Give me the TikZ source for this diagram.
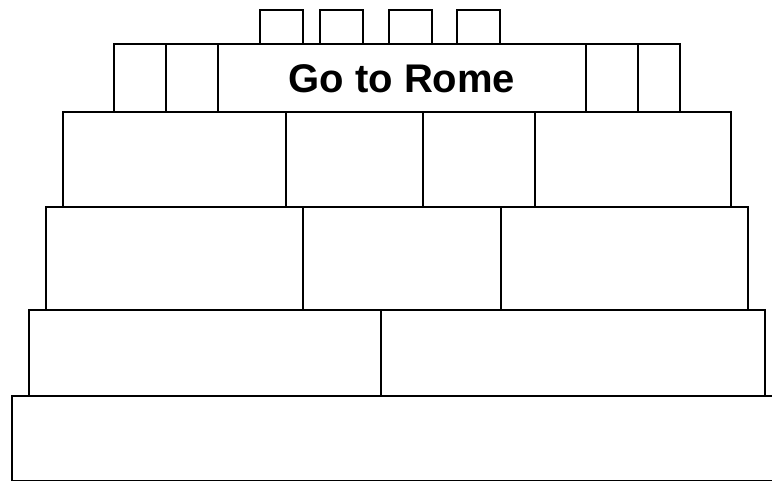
\documentclass[tikz,border=0pt]{standalone}
\usepackage{fontspec}
\setmainfont{Liberation Sans}
\begin{document}
\begin{tikzpicture}[x=1pt,y=-1pt,
  blk/.style={draw=black,line width=1.8pt,fill=white,rectangle,inner sep=0pt,anchor=north west},
]
\useasboundingbox (0,0) rectangle (772,481);
\newcommand{\blkat}[5]{\node[blk,minimum width={#4-#2},minimum height={#5-#3}] (#1) at (#2,#3) {};}
% bottom
\blkat{b1}{11}{395}{790}{480}
% row 5
\blkat{r5a}{28}{309}{380}{395}
\blkat{r5b}{380}{309}{764}{395}
% row 4
\blkat{r4a}{45}{206}{302}{309}
\blkat{r4b}{302}{206}{500}{309}
\blkat{r4c}{500}{206}{747}{309}
% row 3
\blkat{r3a}{62}{111}{285}{206}
\blkat{r3b}{285}{111}{422}{206}
\blkat{r3c}{422}{111}{534}{206}
\blkat{r3d}{534}{111}{730}{206}
% row 2
\blkat{r2a}{113}{43}{165}{111}
\blkat{r2b}{165}{43}{217}{111}
\node[blk,minimum width=368,minimum height=68] (rome) at (217,43) {};
\node[font=\fontsize{40}{42}\selectfont\bfseries] (romet) at ([yshift=-1]rome.center) {Go to Rome};
\blkat{r2d}{585}{43}{637}{111}
\blkat{r2e}{637}{43}{679}{111}
% top
\blkat{t1}{259}{9}{302}{43}
\blkat{t2}{319}{9}{362}{43}
\blkat{t3}{388}{9}{431}{43}
\blkat{t4}{456}{9}{499}{43}
\end{tikzpicture}
\end{document}
